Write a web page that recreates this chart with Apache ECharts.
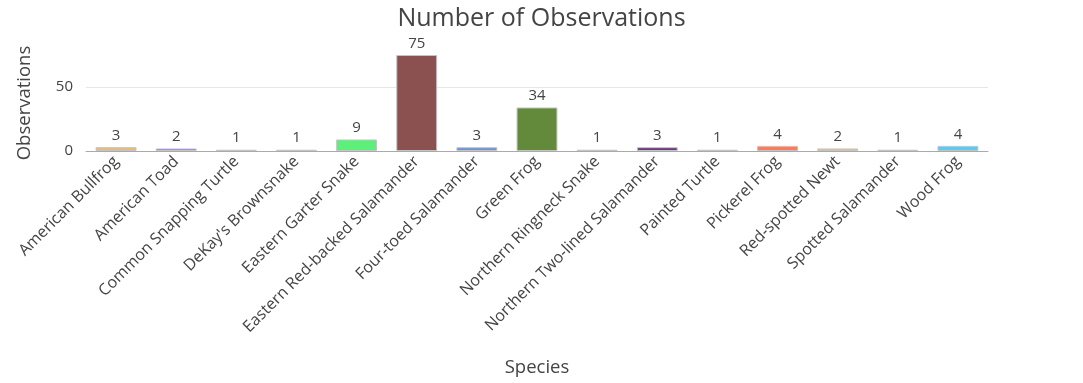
<!DOCTYPE html>
<html><head><meta charset="utf-8">
<script src="https://cdn.jsdelivr.net/npm/echarts@6/dist/echarts.min.js"></script>
<style>html,body{margin:0;padding:0;background:#fff}#c{width:1083px;height:383px}</style>
</head><body><div id="c"></div>
<script>
const categories = ["American Bullfrog","American Toad","Common Snapping Turtle","DeKay's Brownsnake","Eastern Garter Snake","Eastern Red-backed Salamander","Four-toed Salamander","Green Frog","Northern Ringneck Snake","Northern Two-lined Salamander","Painted Turtle","Pickerel Frog","Red-spotted Newt","Spotted Salamander","Wood Frog"];
const observations = [3,2,1,1,9,75,3,34,1,3,1,4,2,1,4];
const barColors = ["#E8B97A","#9467EE","#CCCCCC","#CCCCCC","#5CF07A","#8B5150","#6E93D8","#638A3A","#CCCCCC","#6B3A7A","#CCCCCC","#FF7B5C","#EDBB78","#CCCCCC","#5CCBF3"];
const font = "Open Sans";
const chart = echarts.init(document.getElementById('c'), null, {renderer:'canvas'});
chart.setOption({
  animation:false,
  textStyle:{fontFamily:font},
  title:{text:'Number of Observations',left:'center',top:1,textStyle:{fontFamily:font,fontSize:25,fontWeight:'normal',color:'#444'}},
  grid:{left:86,right:95,top:55,bottom:232},
  xAxis:{type:'category',data:categories,
    name:'Species',nameLocation:'middle',nameGap:207,nameTextStyle:{fontFamily:font,fontSize:18.5,color:'#444'},
    axisLine:{lineStyle:{color:'#aaa'}},axisTick:{alignWithLabel:true,length:5,lineStyle:{color:'#aaa'}},
    axisLabel:{rotate:45,fontFamily:font,fontSize:16,color:'#444',margin:8,interval:0}},
  yAxis:{type:'value',min:0,max:75,interval:50,
    name:'Observations',nameLocation:'middle',nameGap:52,nameTextStyle:{fontFamily:font,fontSize:18.5,color:'#444'},
    axisLine:{show:false},axisTick:{show:false},
    axisLabel:{fontFamily:font,fontSize:15,color:'#444',margin:13,showMaxLabel:false},
    splitLine:{showMaxLine:false,lineStyle:{color:'#e6e6e6'}}},
  series:[{type:'bar',barCategoryGap:'32%',
    data:observations.map((v,i)=>({value:v,itemStyle:{color:barColors[i]}})),
    itemStyle:{borderColor:'#c4c4c4',borderWidth:1},
    label:{show:true,position:'top',fontFamily:font,fontSize:15,color:'#444',distance:4}}]
});
</script></body></html>
